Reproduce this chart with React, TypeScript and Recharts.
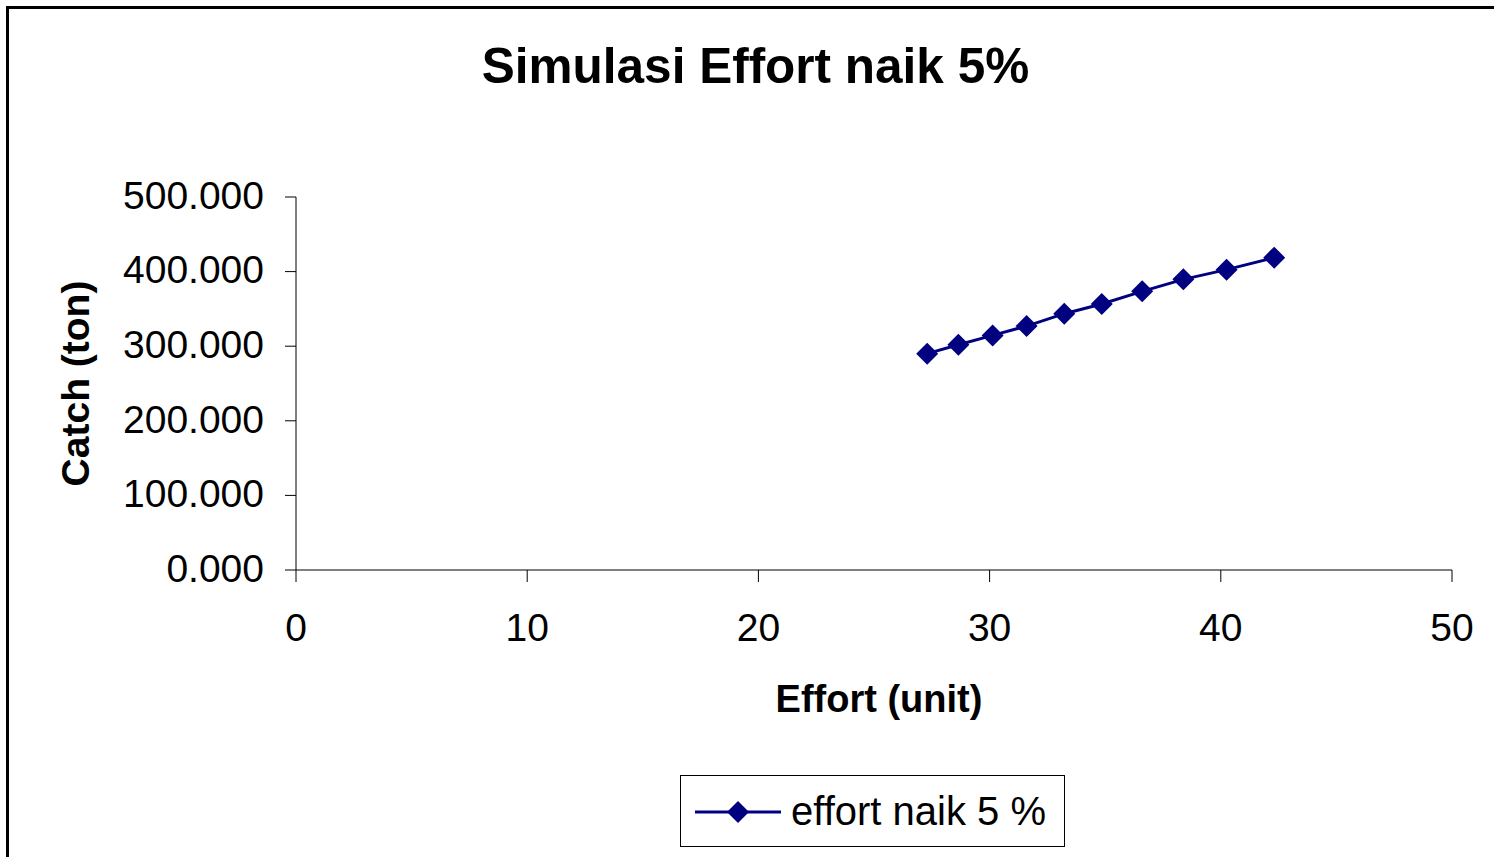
import { LineChart, Line, XAxis, YAxis, Legend } from 'recharts'

const effort = [27.3, 28.65, 30.13, 31.6, 33.23, 34.85, 36.6, 38.38, 40.25, 42.31]
const catchTon = [290.0, 302.0, 314.5, 327.0, 343.6, 356.5, 373.5, 389.6, 402.6, 418.7]
const xTicks = [0, 10, 20, 30, 40, 50]
const yTicks = [0, 100, 200, 300, 400, 500]
const seriesName = 'effort naik 5 %'

const data = effort.map((e, i) => ({ effort: e, catch: catchTon[i] }))

const NAVY = '#000080'
const FONT = 'Arial, "Liberation Sans", sans-serif'

const Diamond = (props: any) => {
  const { cx, cy } = props
  if (cx == null || cy == null) return null
  const r = 11
  return (
    <polygon
      points={`${cx},${cy - r} ${cx + r},${cy} ${cx},${cy + r} ${cx - r},${cy}`}
      fill={NAVY}
      stroke="none"
    />
  )
}

const LegendBox = () => (
  <div
    style={{
      width: 383,
      height: 70,
      border: '1px solid #000',
      background: '#fff',
      display: 'flex',
      alignItems: 'center',
      fontFamily: FONT,
      fontSize: 40,
      color: '#000',
    }}
  >
    <svg width={110} height={70} style={{ flex: 'none' }}>
      <line x1={14} y1={36} x2={100} y2={36} stroke={NAVY} strokeWidth={3} />
      <polygon points="57,25 68,36 57,47 46,36" fill={NAVY} />
    </svg>
    <span>{seriesName}</span>
  </div>
)

export default function App() {
  return (
    <div style={{ position: 'absolute', left: 0, top: 0, width: 1494, height: 857, background: '#fff', overflow: 'hidden' }}>
      <div
        style={{
          position: 'absolute',
          left: 6,
          top: 6,
          width: 1488,
          height: 851,
          borderLeft: '3px solid #000',
          borderTop: '3px solid #000',
          boxSizing: 'border-box',
        }}
      />
      <div
        style={{
          position: 'absolute',
          left: 0,
          top: 38,
          width: 1511,
          textAlign: 'center',
          fontFamily: FONT,
          fontWeight: 'bold',
          fontSize: 49.5,
          color: '#000',
          lineHeight: '56px',
        }}
      >
        Simulasi Effort naik 5%
      </div>
      <div style={{ position: 'absolute', left: 0, top: 0 }}>
        <LineChart
          width={1494}
          height={857}
          data={data}
          margin={{ top: 197, right: 42, bottom: 137, left: 66 }}
          style={{ fontFamily: FONT }}
        >
          <XAxis
            dataKey="effort"
            type="number"
            domain={[0, 50]}
            ticks={xTicks}
            height={150}
            stroke="#000"
            tickSize={12}
            tickMargin={31}
            tick={{ fill: '#000', fontSize: 39 }}
            label={{
              value: 'Effort (unit)',
              position: 'insideBottom',
              offset: 8,
              dx: 5,
              style: { fill: '#000', fontSize: 38, fontWeight: 'bold', textAnchor: 'middle' },
            }}
          />
          <YAxis
            type="number"
            domain={[0, 500]}
            ticks={yTicks}
            width={230}
            stroke="#000"
            tickSize={11}
            tickMargin={21}
            tickFormatter={(v: number) => v.toFixed(3)}
            tick={{ fill: '#000', fontSize: 39, dy: -2 }}
            label={{
              value: 'Catch (ton)',
              angle: -90,
              position: 'insideLeft',
              offset: 9,
              style: { fill: '#000', fontSize: 39, fontWeight: 'bold', textAnchor: 'middle' },
            }}
          />
          <Legend
            layout="horizontal"
            verticalAlign="middle"
            align="center"
            content={<LegendBox />}
            wrapperStyle={{ left: 680, top: 775, width: 385, height: 72 }}
          />
          <Line
            type="linear"
            dataKey="catch"
            name={seriesName}
            stroke={NAVY}
            strokeWidth={3}
            dot={<Diamond />}
            activeDot={false}
            isAnimationActive={false}
          />
        </LineChart>
      </div>
    </div>
  )
}
